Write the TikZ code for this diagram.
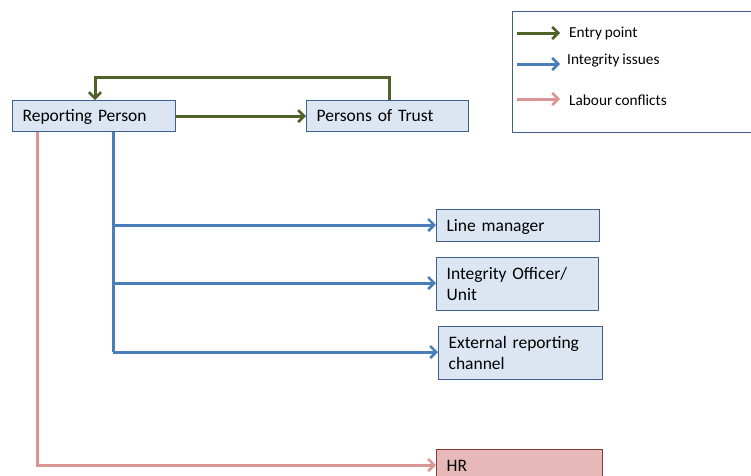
\documentclass[tikz,border=0pt]{standalone}
\usepackage{fontspec}
\setmainfont{Carlito}[WordSpace=0.8]
\usetikzlibrary{arrows.meta}
\definecolor{boxfill}{HTML}{DCE6F2}
\definecolor{boxborder}{HTML}{3F5F8E}
\definecolor{entrygreen}{HTML}{4F6228}
\definecolor{integblue}{HTML}{4A7EBB}
\definecolor{labpink}{HTML}{D99694}
\definecolor{hrfill}{HTML}{E6B9B8}
\definecolor{hrborder}{HTML}{8C3836}
\begin{document}
\begin{tikzpicture}[x=1pt,y=-1pt,
  boxnode/.style={draw=boxborder, fill=boxfill, line width=1.2pt, anchor=north west,
    rectangle, inner xsep=10pt, inner ysep=0pt, align=left,
    font=\fontsize{17.5}{21}\selectfont},
  oneline/.style={text height=14pt, text depth=3pt},
  legtext/.style={anchor=west, inner sep=0pt, font=\fontsize{15.3}{18}\selectfont},
  conn/.style={line width=3pt, -{Straight Barb[length=6pt,width=12pt,line width=2.6pt]}},
  greenline/.style={conn, draw=entrygreen},
  blueline/.style={conn, draw=integblue},
  pinkline/.style={conn, draw=labpink}]
\useasboundingbox (0,0) rectangle (751,475);
\clip (0,0) rectangle (751,475);
% legend
\node[draw=boxborder, line width=1.2pt, anchor=north west, minimum width=250pt, minimum height=121pt, inner sep=0pt] (legend) at (512,11) {};
\node[legtext] (lg1) at (569,33) {Entry point};
\node[legtext] (lg2) at (567,61) {Integrity issues};
\node[legtext] (lg3) at (569,100) {Labour conflicts};
\coordinate (l1s) at (517,33); \coordinate (l1e) at (560,33);
\coordinate (l2s) at (517,64); \coordinate (l2e) at (560,64);
\coordinate (l3s) at (517,99); \coordinate (l3e) at (560,99);
\draw[greenline] (l1s) -- (l1e);
\draw[blueline] (l2s) -- (l2e);
\draw[pinkline] (l3s) -- (l3e);
% boxes
\node[boxnode, oneline, minimum width=163pt, text width=143pt, minimum height=31pt] (rp) at (12,100) {Reporting Person};
\node[boxnode, oneline, minimum width=162pt, text width=142pt, minimum height=31pt] (pot) at (306,100) {Persons of Trust};
\node[boxnode, oneline, minimum width=163pt, text width=143pt, minimum height=32pt] (lm) at (436,209) {Line manager};
\node[boxnode, minimum width=162pt, text width=142pt, minimum height=53pt] (io) at (436,257) {Integrity Officer/\\Unit};
\node[boxnode, minimum width=164pt, text width=144pt, minimum height=53pt] (ext) at (438,326) {External reporting\\channel};
\node[boxnode, oneline, draw=hrborder, fill=hrfill, minimum width=166pt, text width=146pt, minimum height=32pt] (hr) at (436,449) {HR};
% green connectors
\draw[greenline] (rp.east) -- (pot.west);
\coordinate (gtop) at (389,77);
\draw[greenline] (pot.north -| gtop) -- (gtop) -- (95,77) -- (rp.north -| 95,0);
% blue connectors
\coordinate (bx) at (113,0);
\draw[line width=3pt, integblue] (rp.south -| bx) -- (113,352);
\draw[blueline] (113,225) -- (lm.west |- 0,225);
\draw[blueline] (113,283) -- (io.west |- 0,283);
\draw[blueline] (113,352) -- (ext.west |- 0,352);
% pink connector
\draw[pinkline] (rp.south -| 37,0) -- (37,465) -- (hr.west |- 0,465);
\end{tikzpicture}
\end{document}
